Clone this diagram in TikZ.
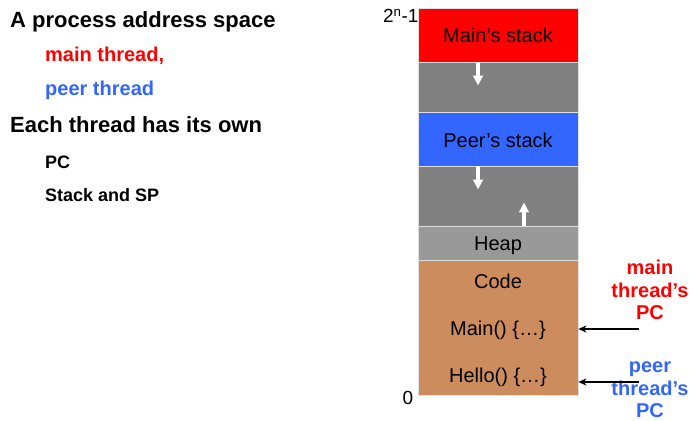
\documentclass[tikz,border=0pt]{standalone}
\usepackage{fontspec}
\setmainfont{Liberation Sans}
\usetikzlibrary{arrows.meta}

\definecolor{mainred}{RGB}{255,0,0}
\definecolor{peerblue}{RGB}{51,102,255}
\definecolor{freegray}{RGB}{128,128,128}
\definecolor{heapgray}{RGB}{153,153,153}
\definecolor{codetan}{RGB}{204,140,94}

\tikzset{
  seg/.style={draw=black!12, line width=0.8pt, minimum width=160pt, inner sep=0pt},
  bullet/.style={anchor=base west, inner sep=0pt},
  growarrow/.style={white, line width=3.5pt, -{Triangle[length=10pt,width=9.5pt]}},
  pcarrow/.style={black, line width=1.3pt, -{Stealth[length=8pt,width=7pt]}},
}

\begin{document}
\begin{tikzpicture}[x=1pt, y=-1pt, every node/.style={font=\fontsize{20}{22}\selectfont}]
  \useasboundingbox (0,0) rectangle (690,420);
  % bullets on the left
  \node[bullet, font=\bfseries\fontsize{22}{24}\selectfont] (space) at (10,28) {A process address space};
  \node[bullet, font=\bfseries\fontsize{20}{22}\selectfont, text=mainred] (mainthr) at (45,62) {main thread,};
  \node[bullet, font=\bfseries\fontsize{20}{22}\selectfont, text=peerblue] (peerthr) at (45,95) {peer thread};
  \node[bullet, font=\bfseries\fontsize{22}{24}\selectfont] (own) at (10,132) {Each thread has its own};
  \node[bullet, font=\bfseries\fontsize{18}{20}\selectfont] (ownpc) at (45,168) {PC};
  \node[bullet, font=\bfseries\fontsize{18}{20}\selectfont] (ownsp) at (45,201) {Stack and SP};

  % the address space, top down
  \foreach \name/\ya/\yb/\col in {mainstk/8/62/mainred, gapa/62/112/freegray, peerstk/112/166/peerblue, gapb/166/226/freegray, heap/226/260/heapgray, code/260/395/codetan} {
    \node[seg, fill=\col, minimum height=\yb-\ya] (\name) at (498,{(\ya+\yb)/2}) {};
  }
  \node[anchor=base] (mainlab) at (498,43) {Main’s stack};
  \node[anchor=base] (peerlab) at (498,147) {Peer’s stack};
  \node[anchor=base] (heaplab) at (498,250) {Heap};
  \node[anchor=base] (codelab) at (498,288) {Code};
  \node[anchor=base] (mainfn) at (498,335) {Main() \{…\}};
  \node[anchor=base] (hellofn) at (498,382) {Hello() \{…\}};

  % stacks grow down, heap grows up
  \draw[growarrow] ([xshift=-20pt]gapa.north) -- ++(0,24);
  \draw[growarrow] ([xshift=-20pt]gapb.north) -- ++(0,24);
  \draw[growarrow] ([xshift=26pt]gapb.south) -- ++(0,-24);

  \node[anchor=east, font=\fontsize{19}{21}\selectfont] (top) at (422,16) {2\textsuperscript{n}-1};
  \node[font=\fontsize{19}{21}\selectfont] (bottom) at (408,398) {0};

  % program counters
  \node[align=center, font=\bfseries\fontsize{20}{22.5}\selectfont, text=mainred] (mainpc) at (650,290) {main\\thread’s\\PC};
  \node[align=center, font=\bfseries\fontsize{20}{22.5}\selectfont, text=peerblue] (peerpc) at (650,390) {peer\\thread’s\\PC};
  \coordinate (mainfrom) at (639,329);
  \coordinate (peerfrom) at (639,382);
  \draw[pcarrow] (mainfrom) -- (mainfrom -| code.east);
  \draw[pcarrow] (peerfrom) -- (peerfrom -| code.east);
\end{tikzpicture}
\end{document}
